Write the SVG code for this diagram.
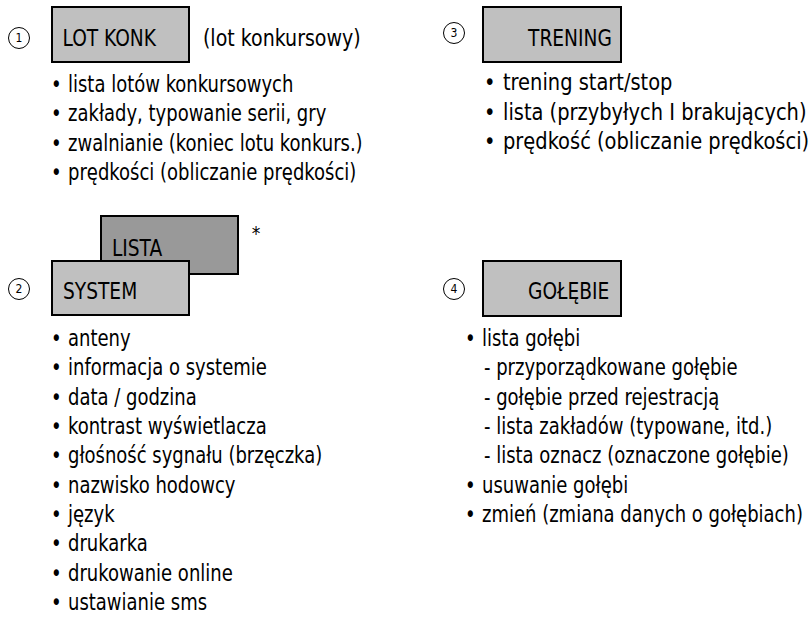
<svg xmlns="http://www.w3.org/2000/svg" width="810" height="635" viewBox="0 0 810 635">
<style>
text{font-family:"DejaVu Sans Condensed","DejaVu Sans",sans-serif;fill:#000;font-size:23px}
.n{font-size:12px;text-anchor:middle}
.box{fill:#c0c0c0;stroke:#000;stroke-width:2}
.box2{fill:#999;stroke:#000;stroke-width:2}
.c{fill:#fff;stroke:#000;stroke-width:1}
</style>
<rect width="810" height="635" fill="#fff"/>
<g id="s1">
<circle class="c" cx="19" cy="38" r="10.5"/><text class="n" x="19" y="42">1</text>
<rect class="box" x="52" y="7" width="137" height="55"/>
<g transform="scale(0.9 1)"><text x="69.5" y="46">LOT KONK</text></g>
<g transform="scale(0.92 1)"><text x="220.6" y="46">(lot konkursowy)</text></g>
<g transform="scale(0.87 1)">
<text x="58.6" y="92">•</text><text x="78.16" y="92">lista lotów konkursowych</text>
<text x="58.6" y="121.5">•</text><text x="78.16" y="121.5">zakłady, typowanie serii, gry</text>
<text x="58.6" y="151">•</text><text x="78.16" y="151">zwalnianie (koniec lotu konkurs.)</text>
<text x="58.6" y="180.5">•</text><text x="78.16" y="180.5">prędkości (obliczanie prędkości)</text>
</g>
</g>
<g id="s3">
<circle class="c" cx="454" cy="33" r="10.5"/><text class="n" x="454" y="37">3</text>
<rect class="box" x="483" y="7" width="138" height="55"/>
<g transform="scale(0.9 1)"><text x="586.7" y="46">TRENING</text></g>
<g transform="scale(0.94 1)">
<text x="514.9" y="90">•</text><text x="535.1" y="90">trening start/stop</text>
<text x="514.9" y="120">•</text><text x="535.1" y="120">lista (przybyłych I brakujących)</text>
<text x="514.9" y="149">•</text><text x="535.1" y="149">prędkość (obliczanie prędkości)</text>
</g>
</g>
<g id="lista">
<rect class="box2" x="101" y="216" width="137" height="58"/>
<g transform="scale(0.9 1)"><text x="124.4" y="256.5">LISTA</text></g>
<text x="256" y="240" style="font-size:19px;text-anchor:middle">*</text>
</g>
<g id="s2">
<circle class="c" cx="19" cy="289" r="10.5"/><text class="n" x="19" y="293">2</text>
<rect class="box" x="52" y="261" width="137" height="54"/>
<g transform="scale(0.9 1)"><text x="70" y="299">SYSTEM</text></g>
<g transform="scale(0.87 1)">
<text x="58.6" y="346">•</text><text x="78.16" y="346">anteny</text>
<text x="58.6" y="375.5">•</text><text x="78.16" y="375.5">informacja o systemie</text>
<text x="58.6" y="405">•</text><text x="78.16" y="405">data / godzina</text>
<text x="58.6" y="434">•</text><text x="78.16" y="434">kontrast wyświetlacza</text>
<text x="58.6" y="463.5">•</text><text x="78.16" y="463.5">głośność sygnału (brzęczka)</text>
<text x="58.6" y="493">•</text><text x="78.16" y="493">nazwisko hodowcy</text>
<text x="58.6" y="522">•</text><text x="78.16" y="522">język</text>
<text x="58.6" y="551.5">•</text><text x="78.16" y="551.5">drukarka</text>
<text x="58.6" y="581">•</text><text x="78.16" y="581">drukowanie online</text>
<text x="58.6" y="610">•</text><text x="78.16" y="610">ustawianie sms</text>
</g>
</g>
<g id="s4">
<circle class="c" cx="454" cy="289" r="10.5"/><text class="n" x="454" y="293">4</text>
<rect class="box" x="483" y="261" width="138" height="55"/>
<g transform="scale(0.9 1)"><text x="586.7" y="299">GOŁĘBIE</text></g>
<g transform="scale(0.87 1)">
<text x="534.5" y="346">•</text><text x="554" y="346">lista gołębi</text>
<text x="556.3" y="375.5">- przyporządkowane gołębie</text>
<text x="556.3" y="405">- gołębie przed rejestracją</text>
<text x="556.3" y="434">- lista zakładów (typowane, itd.)</text>
<text x="556.3" y="463.5">- lista oznacz (oznaczone gołębie)</text>
<text x="534.5" y="493">•</text><text x="554" y="493">usuwanie gołębi</text>
<text x="534.5" y="522">•</text><text x="554" y="522">zmień (zmiana danych o gołębiach)</text>
</g>
</g>
</svg>
